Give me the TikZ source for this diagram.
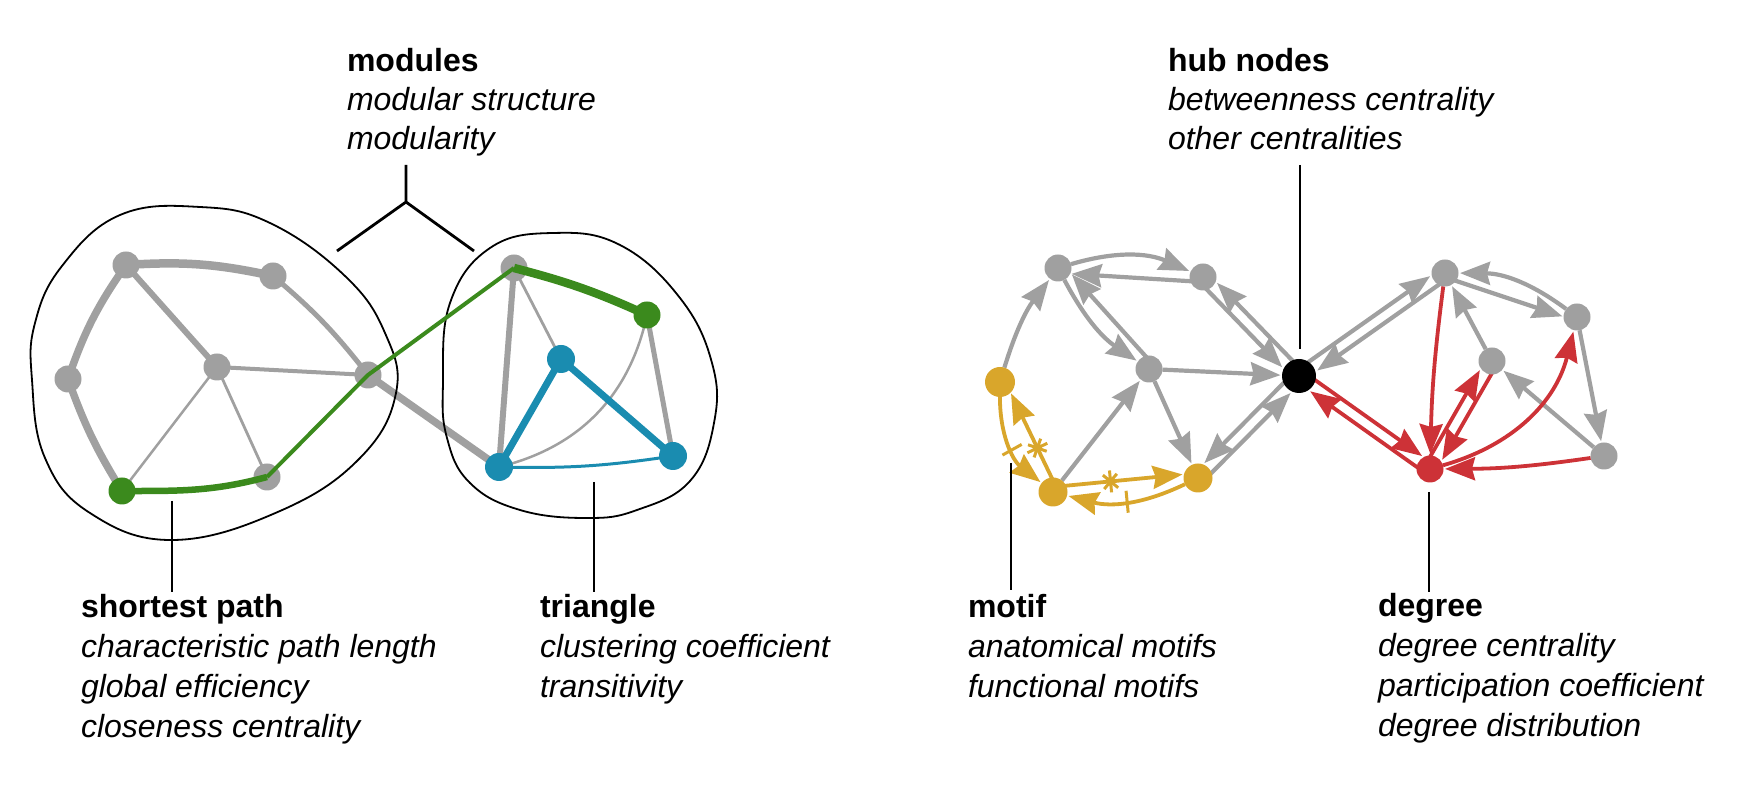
\documentclass[tikz,border=0pt]{standalone}
\usepackage{fontspec}
\setmainfont{Liberation Sans}
\usetikzlibrary{arrows.meta,calc,decorations.markings}
\definecolor{gr}{HTML}{A0A0A0}
\definecolor{grn}{HTML}{3B8A1D}
\definecolor{blu}{HTML}{1A8CB0}
\definecolor{yel}{HTML}{D9A62B}
\definecolor{rd}{HTML}{CD3237}
\pgfdeclarelayer{bg}\pgfdeclarelayer{fg}\pgfsetlayers{bg,main,fg}
\newcommand\offedge[4][]{\draw[#1] ($(#2)!#4!90:(#3)$) -- ($(#3)!#4!-90:(#2)$);}
\begin{document}
\begin{tikzpicture}[x=1pt,y=1pt,
  every node/.style={inner sep=0pt,outer sep=0pt},
  vtx/.style={circle,fill=#1,minimum size=27pt},
  hubvtx/.style={circle,fill=black,minimum size=34pt},
  ue/.style={draw=gr},
  arrtip/.style={-{Stealth[length=30pt,width=23pt,inset=3pt]}},
  garr/.style={draw=gr,line width=4.2pt,arrtip,shorten >=1.5pt},
  rarr/.style={draw=rd,line width=3.8pt,arrtip,shorten >=1.5pt},
  yarr/.style={draw=yel,line width=3.8pt,arrtip,shorten >=1.5pt},
  offs/.style={shorten <=10pt,shorten >=#1},
  tickm/.style={postaction={decorate,decoration={markings,mark=at position #1 with {\draw[yel,line width=3pt,-,shorten <=0pt,shorten >=0pt] (0,-11pt)--(0,11pt);}}}},
  starm/.style={postaction={decorate,decoration={markings,mark=at position #1 with {\draw[yel,line width=3pt,-,shorten <=0pt,shorten >=0pt] (0,-11pt)--(0,11pt) (-7pt,-7pt)--(7pt,7pt) (-7pt,7pt)--(7pt,-7pt);}}}},
  lbl/.style={line width=2.8pt},
  blob/.style={line width=1.8pt},
  lbltitle/.style={anchor=base west,font=\fontsize{32}{38}\selectfont\bfseries},
  lblitem/.style={anchor=base west,font=\fontsize{32}{38}\selectfont\itshape},
]
\useasboundingbox (0,0) rectangle (1753,803);

% ---------- left: modules ----------
\draw[blob] plot[smooth cycle,tension=0.7] coordinates {(32,423) (45,345) (90,290) (173,263) (280,292) (360,345) (396,410) (385,470) (345,527) (270,580) (200,596) (120,588) (62,537) (35,480)};
\draw[blob] plot[smooth cycle,tension=0.7] coordinates {(443,420) (450,500) (490,555) (553,570) (620,558) (680,505) (712,440) (714,380) (690,322) (637,293) (587,285) (520,293) (470,320) (447,365)};

\node[vtx=gr] (A) at (126,538) {};
\node[vtx=gr] (B) at (273,527) {};
\node[vtx=gr] (C) at (68,424) {};
\node[vtx=gr] (D) at (217,436) {};
\node[vtx=gr] (E) at (368,428) {};
\node[vtx=grn] (F) at (122,312) {};
\node[vtx=gr] (G) at (267,326) {};
\node[vtx=gr] (H) at (514,535) {};
\node[vtx=grn] (I) at (647,488) {};
\node[vtx=blu,minimum size=28pt] (J) at (561,444) {};
\node[vtx=blu,minimum size=28pt] (K) at (499,336) {};
\node[vtx=blu,minimum size=28pt] (L) at (673,347) {};

\begin{pgfonlayer}{bg}
\draw[ue,line width=8.5pt] (A.center) to[bend left=8] (B.center);
\draw[ue,line width=7.5pt] (A.center) to[bend right=8] (C.center);
\draw[ue,line width=7.5pt] (C.center) to[bend right=6] (F.center);
\draw[ue,line width=6pt] (A.center) -- (D.center);
\draw[ue,line width=5pt] (B.center) to[bend left=6] (E.center);
\draw[ue,line width=4pt] (D.center) -- (E.center);
\draw[ue,line width=2.5pt] (D.center) -- (F.center);
\draw[ue,line width=2.8pt] (D.center) -- (G.center);
\draw[ue,line width=7.5pt] (E.center) -- (K.center);
\draw[ue,line width=6pt] (H.center) -- (K.center);
\draw[ue,line width=2.8pt] (H.center) -- (J.center);
\draw[ue,line width=5pt] (I.center) -- (L.center);
\draw[ue,line width=2.5pt] (I.center) to[bend left=32] (K.center);
\draw[blu,line width=7pt] (J.center) -- (K.center);
\draw[blu,line width=7pt] (J.center) -- (L.center);
\draw[blu,line width=3pt] (K.center) to[bend right=5] (L.center);
\end{pgfonlayer}

\begin{pgfonlayer}{fg}
\draw[grn,line width=6.5pt] (F.center) to[out=0,in=195] (G.center);
\draw[grn,line width=4pt,line join=round] (G.center) -- (E.center) -- (H.center);
\draw[grn,line width=8.5pt] (H.center) to[bend left=5] (I.center);
\end{pgfonlayer}

% bracket and label lines (left)
\coordinate (mtop) at (406,638);
\coordinate (mjoin) at (406,601);
\coordinate (mleft) at (337,552);
\coordinate (mright) at (474,552);
\draw[lbl] (mtop) -- (mjoin) -- (mleft);
\draw[lbl] (mjoin) -- (mright);
\coordinate (spA) at (172,302); \coordinate (spB) at (172,211);
\draw[lbl] (spA) -- (spB);
\coordinate (trA) at (594,321); \coordinate (trB) at (594,211);
\draw[lbl] (trA) -- (trB);

\node[lbltitle] (mod0) at (347,731) {modules};
\node[lblitem] (mod1) at (347,692) {modular structure};
\node[lblitem] (mod2) at (347,653) {modularity};
\node[lbltitle] (sp0) at (81,185) {shortest path};
\node[lblitem] (sp1) at (81,145) {characteristic path length};
\node[lblitem] (sp2) at (81,105) {global efficiency};
\node[lblitem] (sp3) at (81,65) {closeness centrality};
\node[lbltitle] (tr0) at (540,185) {triangle};
\node[lblitem] (tr1) at (540,145) {clustering coefficient};
\node[lblitem] (tr2) at (540,105) {transitivity};

% ---------- right: directed network ----------
\node[vtx=gr] (P) at (1058,535) {};
\node[vtx=gr] (Q) at (1203,526) {};
\node[vtx=gr] (R) at (1149,434) {};
\node[vtx=yel,minimum size=30pt] (S) at (1000,421) {};
\node[vtx=yel,minimum size=29pt] (T) at (1053,311) {};
\node[vtx=yel,minimum size=29pt] (U) at (1198,325) {};
\node[hubvtx] (hub) at (1299,427) {};
\node[vtx=gr] (V) at (1445,530) {};
\node[vtx=gr] (W) at (1577,486) {};
\node[vtx=gr] (X) at (1492,442) {};
\node[vtx=gr] (Y) at (1604,347) {};
\node[vtx=rd] (Dg) at (1430,334) {};

\begin{pgfonlayer}{bg}
\draw[garr] (S) to[bend left=10] (P);
\draw[garr] (P) to[bend left=20] (Q);
\offedge[garr,offs=14pt]{Q}{P}{5pt}
\draw[garr] (P) to[bend right=14] (R);
\offedge[garr,offs=14pt]{R}{P}{-6pt}
\offedge[garr,offs=18pt]{Q}{hub}{-6pt}
\offedge[garr,offs=14pt]{hub}{Q}{-6pt}
\draw[garr] (R) -- (hub);
\draw[garr] (R) -- (U);
\draw[garr] (T) -- (R);
\offedge[garr,offs=18pt]{U}{hub}{-6pt}
\offedge[garr,offs=15pt]{hub}{U}{-6pt}
\offedge[garr,offs=14pt]{hub}{V}{6pt}
\offedge[garr,offs=18pt]{V}{hub}{6pt}
\offedge[garr,offs=14pt]{V}{W}{-4pt}
\draw[garr] (W) to[bend right=18] (V);
\draw[garr] (X) -- (V);
\draw[garr] (W) -- (Y);
\draw[garr] (Y) -- (X);
\offedge[rarr,offs=14pt]{hub}{Dg}{6pt}
\offedge[rarr,offs=18pt]{Dg}{hub}{6pt}
\draw[rarr] (V) to[bend right=3] (Dg);
\offedge[rarr,offs=14pt]{Dg}{X}{6pt}
\offedge[rarr,offs=14pt]{X}{Dg}{6pt}
\draw[rarr] (Dg) to[bend right=30] (W);
\draw[rarr] (Y) to[bend left=4] (Dg);
\draw[yarr,tickm=0.55] (S) to[bend right=26] (T);
\offedge[yarr,offs=15pt,starm=0.38]{T}{S}{-5pt}
\offedge[yarr,offs=15pt,starm=0.4]{T}{U}{5pt}
\draw[yarr,tickm=0.5] (U) to[bend left=20] (T);
\end{pgfonlayer}

\coordinate (hbA) at (1300,638); \coordinate (hbB) at (1300,454);
\draw[lbl] (hbA) -- (hbB);
\coordinate (mtA) at (1011,340); \coordinate (mtB) at (1011,213);
\draw[lbl] (mtA) -- (mtB);
\coordinate (dgA) at (1429,311); \coordinate (dgB) at (1429,211);
\draw[lbl] (dgA) -- (dgB);

\node[lbltitle] (hb0) at (1168,731) {hub nodes};
\node[lblitem] (hb1) at (1168,692) {betweenness centrality};
\node[lblitem] (hb2) at (1168,653) {other centralities};
\node[lbltitle] (mt0) at (968,185) {motif};
\node[lblitem] (mt1) at (968,145) {anatomical motifs};
\node[lblitem] (mt2) at (968,105) {functional motifs};
\node[lbltitle] (dg0) at (1378,186) {degree};
\node[lblitem] (dg1) at (1378,146) {degree centrality};
\node[lblitem] (dg2) at (1378,106) {participation coefficient};
\node[lblitem] (dg3) at (1378,66) {degree distribution};
\end{tikzpicture}
\end{document}
